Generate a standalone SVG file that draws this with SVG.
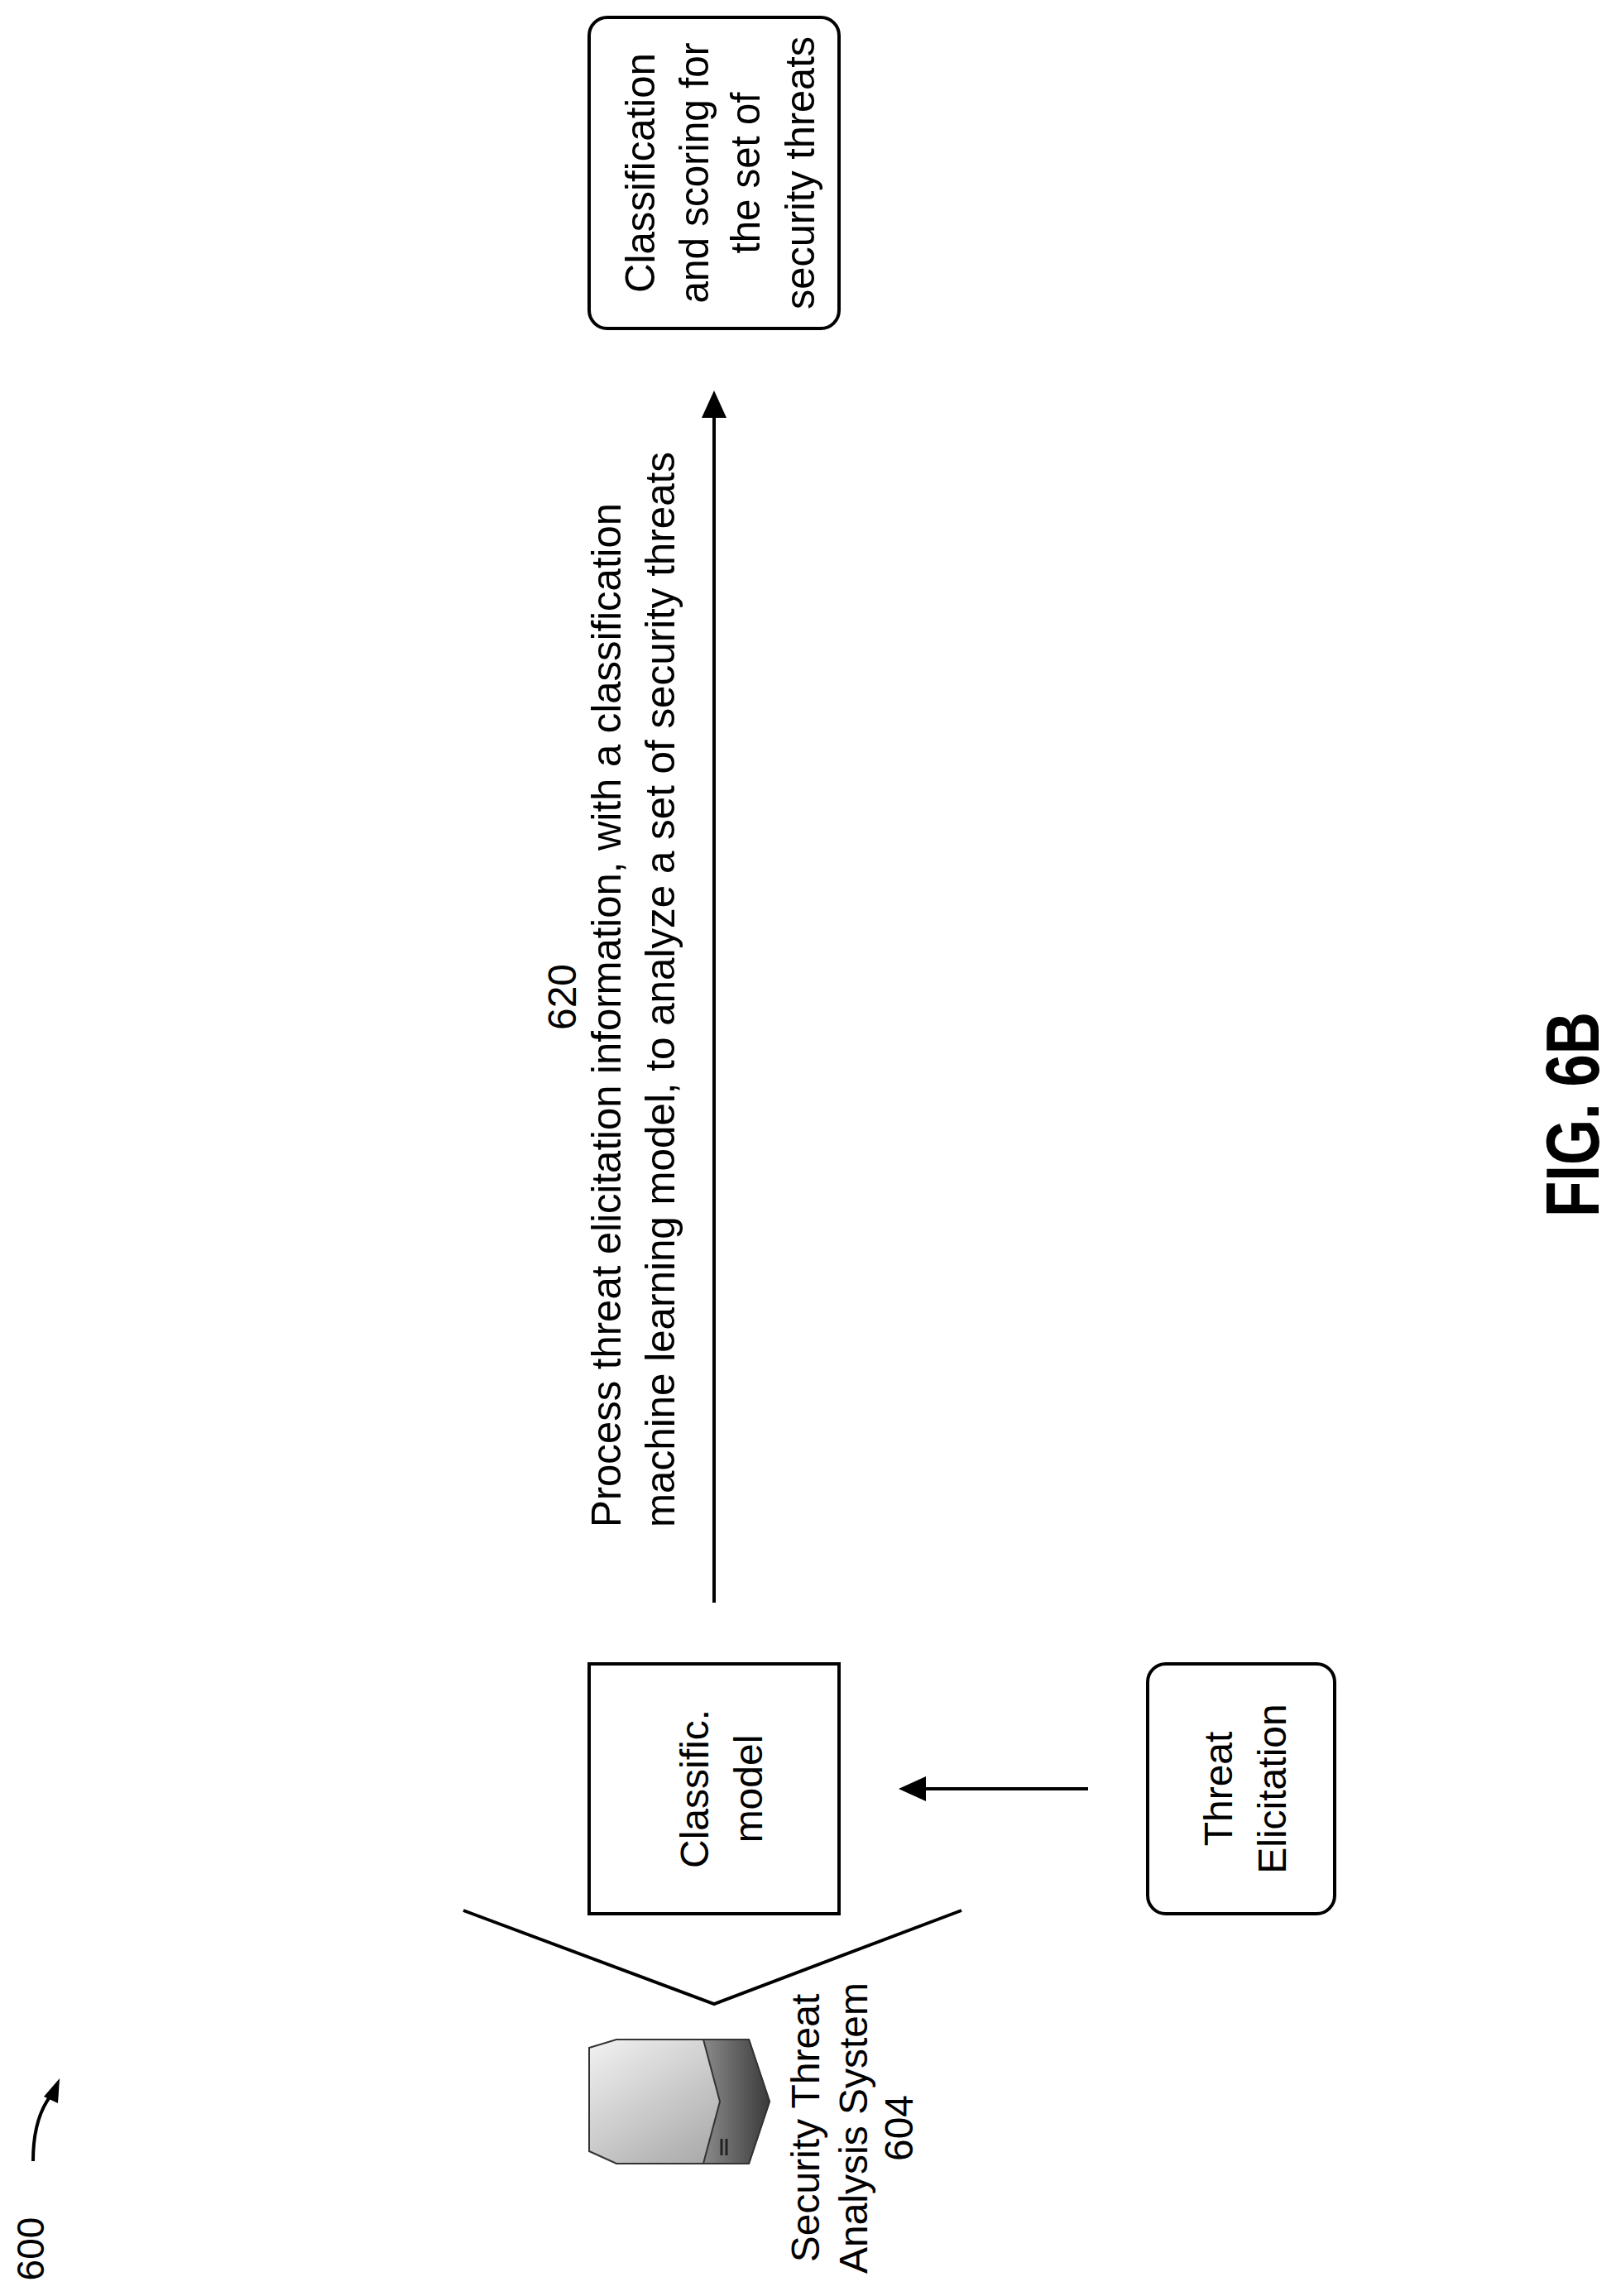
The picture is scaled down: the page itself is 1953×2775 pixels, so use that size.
<svg xmlns="http://www.w3.org/2000/svg" width="1953" height="2775" viewBox="0 0 1953 2775">
<style>
.t{font-family:"Liberation Sans",Arial,sans-serif;fill:#000}
.b{fill:#fff;stroke:#000;stroke-width:4}
.l{fill:none;stroke:#000;stroke-width:4}
</style>
<defs>
<marker id="ah" viewBox="0 0 10 10" refX="9" refY="5" markerWidth="8" markerHeight="8" markerUnits="userSpaceOnUse" orient="auto" style="overflow:visible"><path d="M0,0 L10,5 L0,10 z" fill="#000" transform="scale(3.2) translate(-6.5,-5) translate(0,5) translate(0,-5)"/></marker>
<linearGradient id="g1" x1="0" y1="0" x2="1" y2="1"><stop offset="0" stop-color="#f2f2f2"/><stop offset="1" stop-color="#9a9a9a"/></linearGradient>
<linearGradient id="g2" x1="0" y1="0" x2="1" y2="0"><stop offset="0" stop-color="#8a8a8a"/><stop offset="1" stop-color="#3a3a3a"/></linearGradient>
</defs>
<rect width="1953" height="2775" fill="#fff"/>
<g id="connectors">
<line class="l" x1="863" y1="1937" x2="863" y2="500"/>
<path d="M863,472 L848,505 L878,505 z" fill="#000"/>
<line class="l" x1="1315" y1="2162" x2="1112" y2="2162"/>
<path d="M1086,2162 L1119,2147 L1119,2177 z" fill="#000"/>
<polyline class="l" points="560,2309 863,2422 1162,2309"/>
<text class="t" font-size="48" transform="translate(696,1205) rotate(-90)" text-anchor="middle">620</text>
<text class="t" font-size="50" transform="translate(750,1846) rotate(-90)" textLength="1238" lengthAdjust="spacingAndGlyphs">Process threat elicitation information, with a classification</text>
<text class="t" font-size="50" transform="translate(815,1846) rotate(-90)" textLength="1300" lengthAdjust="spacingAndGlyphs">machine learning model, to analyze a set of security threats</text>
</g>
<g id="node-classification">
<rect class="b" x="712" y="21" width="302" height="376" rx="22"/>
<g class="t" font-size="50" text-anchor="middle">
<text transform="translate(791,209) rotate(-90)" textLength="290" lengthAdjust="spacingAndGlyphs">Classification</text>
<text transform="translate(856,209) rotate(-90)" textLength="315" lengthAdjust="spacingAndGlyphs">and scoring for</text>
<text transform="translate(918,209) rotate(-90)" textLength="195" lengthAdjust="spacingAndGlyphs">the set of</text>
<text transform="translate(984,209) rotate(-90)" textLength="330" lengthAdjust="spacingAndGlyphs">security threats</text>
</g>
</g>
<g id="node-model">
<rect class="b" x="712" y="2011" width="302" height="302"/>
<text class="t" font-size="48" text-anchor="middle" transform="translate(856,2162) rotate(-90)">Classific.</text>
<text class="t" font-size="48" text-anchor="middle" transform="translate(921,2162) rotate(-90)">model</text>
</g>
<g id="node-threat">
<rect class="b" x="1387" y="2011" width="226" height="302" rx="22"/>
<text class="t" font-size="48" text-anchor="middle" transform="translate(1489,2162) rotate(-90)">Threat</text>
<text class="t" font-size="48" text-anchor="middle" transform="translate(1554,2162) rotate(-90)">Elicitation</text>
</g>
<g id="node-system">
<polygon points="712,2475 745,2465 905,2465 930,2540 905,2615 745,2615 712,2600" fill="url(#g1)" stroke="#333" stroke-width="2"/>
<polygon points="850,2465 905,2465 930,2540 905,2615 850,2615 870,2540" fill="url(#g2)" stroke="#333" stroke-width="2"/>
<line x1="872" y1="2585" x2="872" y2="2605" stroke="#222" stroke-width="3"/>
<line x1="878" y1="2585" x2="878" y2="2605" stroke="#222" stroke-width="3"/>
<text class="t" font-size="48" text-anchor="middle" transform="translate(990,2572) rotate(-90)">Security Threat</text>
<text class="t" font-size="48" text-anchor="middle" transform="translate(1048,2572) rotate(-90)">Analysis System</text>
<text class="t" font-size="48" text-anchor="middle" transform="translate(1103,2572) rotate(-90)">604</text>
</g>
<g id="label-600">
<text class="t" font-size="46" text-anchor="middle" transform="translate(53,2718) rotate(-90)">600</text>
<path class="l" d="M40,2612 Q40,2560 62,2532"/>
<path d="M72,2512 L53,2534 L70,2542 z" fill="#000"/>
</g>
<text class="t" font-size="90" font-weight="bold" text-anchor="middle" transform="translate(1932,1347) rotate(-90)" textLength="248" lengthAdjust="spacingAndGlyphs">FIG. 6B</text>
</svg>
